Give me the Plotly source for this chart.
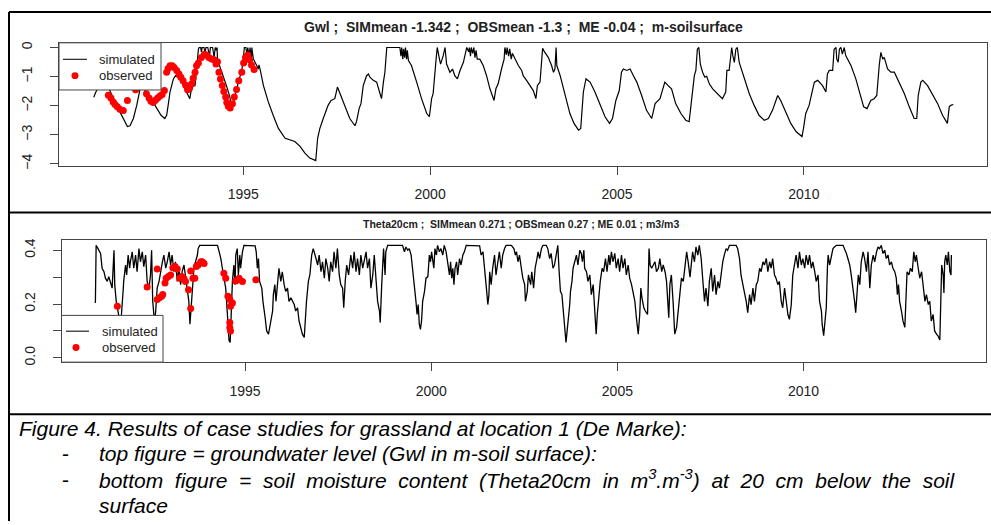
import plotly.graph_objects as go

# ---------------- data ----------------
gwl_sim_year = [
 1991.00,1991.05,1991.15,1991.25,1991.35,1991.43,1991.61,1991.74,1991.90,1991.97,1992.06,1992.15,1992.21,1992.25,1992.30,1992.36,
 1992.46,1992.64,1992.80,1992.90,1992.95,1992.99,1993.04,1993.13,1993.19,1993.31,1993.44,1993.53,1993.57,1993.60,1993.66,1993.71,
 1993.75,1993.80,1993.82,1993.86,1993.88,1993.90,1993.95,1993.98,1994.00,1994.05,1994.10,1994.12,1994.18,1994.22,1994.25,1994.28,
 1994.30,1994.31,1994.38,1994.46,1994.55,1994.64,1994.69,1994.73,1994.78,1994.87,1994.96,1995.00,1995.03,1995.07,1995.10,1995.12,
 1995.16,1995.18,1995.22,1995.23,1995.27,1995.36,1995.40,1995.42,1995.45,1995.54,1995.67,1995.80,1995.94,1996.12,1996.25,1996.38,
 1996.52,1996.65,1996.78,1996.90,1996.94,1996.99,1997.05,1997.14,1997.23,1997.27,1997.35,1997.45,1997.52,1997.59,1997.72,1997.85,
 1997.99,1998.03,1998.10,1998.15,1998.21,1998.30,1998.35,1998.39,1998.48,1998.57,1998.66,1998.70,1998.75,1998.79,1998.84,1999.19,
 1999.22,1999.24,1999.27,1999.29,1999.32,1999.34,1999.37,1999.39,1999.42,1999.50,1999.64,1999.77,1999.91,1999.98,2000.04,2000.08,
 2000.16,2000.19,2000.25,2000.28,2000.35,2000.40,2000.44,2000.53,2000.60,2000.66,2000.73,2000.80,2000.89,2000.96,2000.98,2001.03,
 2001.05,2001.08,2001.10,2001.14,2001.17,2001.20,2001.23,2001.26,2001.33,2001.42,2001.51,2001.60,2001.71,2001.76,2001.82,2001.91,
 2001.98,2002.00,2002.04,2002.06,2002.10,2002.13,2002.17,2002.20,2002.27,2002.36,2002.45,2002.49,2002.58,2002.67,2002.76,2002.83,
 2002.87,2002.94,2002.98,2003.01,2003.07,2003.16,2003.25,2003.30,2003.34,2003.37,2003.39,2003.48,2003.57,2003.65,2003.74,2003.85,
 2003.97,2004.03,2004.10,2004.17,2004.28,2004.41,2004.55,2004.68,2004.80,2004.88,2004.97,2005.06,2005.12,2005.17,2005.26,2005.35,
 2005.44,2005.53,2005.66,2005.79,2005.93,2006.02,2006.15,2006.22,2006.28,2006.37,2006.46,2006.57,2006.71,2006.84,2006.93,2006.99,
 2007.07,2007.11,2007.15,2007.19,2007.23,2007.29,2007.35,2007.40,2007.47,2007.56,2007.69,2007.82,2007.91,2007.94,2008.00,2008.05,
 2008.07,2008.10,2008.14,2008.18,2008.22,2008.27,2008.36,2008.45,2008.54,2008.67,2008.80,2008.94,2009.05,2009.16,2009.30,2009.38,
 2009.52,2009.65,2009.79,2009.95,2009.99,2010.05,2010.14,2010.21,2010.28,2010.37,2010.50,2010.59,2010.63,2010.68,2010.77,2010.81,
 2010.86,2010.88,2010.92,2010.95,2010.99,2011.03,2011.08,2011.12,2011.26,2011.39,2011.48,2011.60,2011.69,2011.79,2011.88,2011.95,
 2012.02,2012.06,2012.11,2012.15,2012.24,2012.33,2012.42,2012.55,2012.69,2012.82,2012.95,2013.02,2013.06,2013.13,2013.18,2013.31,
 2013.44,2013.58,2013.71,2013.84,2013.89,2013.93,2014.00]
gwl_sim_value = [
 -1.71,-1.55,-1.30,-1.20,-1.30,-1.48,-1.99,-2.33,-2.72,-2.69,-2.44,-1.99,-1.53,-1.35,-1.30,-1.45,
 -1.70,-1.99,-2.33,-2.44,-2.33,-1.99,-1.53,-1.08,-0.97,-1.08,-1.42,-1.70,-1.76,-1.53,-1.31,-1.31,
 -0.62,-0.06,0.00,0.00,-0.15,0.00,0.00,-0.20,0.00,0.00,-0.30,0.00,0.00,-0.35,0.00,-0.10,
 0.00,-0.40,-0.68,-0.96,-1.31,-1.70,-2.04,-1.99,-1.65,-1.19,-0.79,-0.40,0.00,0.00,-0.25,0.00,
 -0.30,0.00,-0.35,0.00,-0.40,-0.62,-0.74,-0.60,-0.74,-1.31,-1.87,-2.33,-2.78,-3.12,-3.18,-3.23,
 -3.40,-3.63,-3.80,-3.89,-3.89,-3.12,-2.78,-2.44,-2.10,-1.99,-1.82,-1.76,-1.36,-1.59,-1.99,-2.44,
 -2.69,-2.55,-2.10,-1.93,-1.31,-0.97,-0.91,-1.02,-1.13,-1.19,-1.59,-1.76,-1.19,-0.85,0.00,0.00,
 -0.30,0.00,-0.40,-0.05,-0.35,0.00,-0.40,-0.10,-0.45,-0.62,-1.19,-1.76,-2.27,-2.38,-1.76,-1.59,
 -0.40,0.00,-0.40,-0.57,-0.28,0.00,-0.57,-0.85,-0.74,-0.97,-1.08,-0.79,-0.51,-0.11,0.00,-0.15,
 0.00,-0.30,0.00,-0.20,0.00,-0.35,-0.10,-0.40,-0.40,-0.62,-0.97,-1.42,-1.82,-1.42,-1.25,-0.74,
 -0.40,0.00,-0.25,0.00,-0.30,-0.05,-0.40,-0.20,-0.40,-0.62,-0.79,-0.97,-1.13,-1.31,-1.48,-1.76,
 -1.31,-1.19,-0.57,-0.03,-0.17,-0.34,-0.62,-0.85,-0.74,0.00,-0.62,-0.97,-1.42,-1.87,-2.27,-2.61,
 -2.84,-2.78,-1.53,-1.08,-1.19,-1.53,-1.99,-2.38,-2.61,-2.44,-1.82,-1.48,-0.85,-0.74,-0.79,-0.74,
 -0.97,-1.19,-1.65,-2.16,-2.44,-1.93,-1.76,-1.42,-1.19,-1.31,-1.42,-1.93,-2.27,-2.50,-2.55,-1.87,
 -0.97,-0.79,-0.06,0.00,-0.57,-0.85,-1.02,-0.99,-1.25,-1.42,-1.59,-1.76,-1.53,-0.79,-0.79,-0.06,
 0.00,-0.28,-0.51,-0.06,0.00,-0.51,-0.85,-1.19,-1.59,-1.99,-2.33,-2.50,-2.44,-2.16,-1.65,-1.82,
 -2.21,-2.61,-2.89,-3.06,-2.78,-2.27,-1.99,-1.53,-1.19,-1.13,-1.31,-1.53,-0.91,-0.79,-0.79,-0.06,
 0.00,-0.40,-0.51,-0.06,0.00,-0.23,0.00,-0.28,-0.62,-1.08,-1.53,-2.04,-2.10,-1.82,-1.76,-1.65,
 -0.57,-0.17,-0.40,-0.34,-0.74,-0.85,-0.85,-1.19,-1.59,-2.04,-2.44,-2.44,-1.65,-1.19,-1.13,-1.31,
 -1.59,-1.93,-2.33,-2.61,-2.04,-1.99,-1.96]

gwl_obs_year = [
 1991.39,1991.46,1991.52,1991.57,1991.63,1991.70,1991.79,1991.90,1992.12,
 1992.41,1992.48,1992.53,1992.59,1992.65,1992.71,1992.77,1992.83,1992.89,
 1992.95,1992.99,1993.04,1993.10,1993.15,1993.22,1993.28,1993.33,1993.39,1993.46,1993.51,1993.56,1993.62,1993.66,1993.71,1993.75,1993.80,
 1993.88,1993.96,1994.02,1994.08,1994.15,1994.22,1994.27,1994.31,1994.35,1994.39,1994.44,1994.48,1994.53,1994.56,1994.60,1994.65,
 1994.71,1994.76,1994.82,1994.88,1994.96,1995.01,1995.06,1995.12,1995.17,1995.22,1995.29]
gwl_obs_value = [
 -1.64,-1.74,-1.87,-1.96,-2.04,-2.12,-2.17,-1.82,-1.45,
 -1.59,-1.74,-1.85,-1.89,-1.81,-1.74,-1.67,-1.62,-1.48,
 -0.85,-0.72,-0.63,-0.63,-0.69,-0.79,-0.91,-1.02,-1.14,-1.30,-1.45,-1.40,-1.25,-1.06,-0.85,-0.63,-0.53,
 -0.34,-0.23,-0.26,-0.34,-0.40,-0.42,-0.57,-0.49,-0.85,-1.08,-1.31,-1.51,-1.70,-1.89,-2.02,-2.08,
 -1.93,-1.70,-1.44,-1.14,-0.85,-0.53,-0.34,-0.26,-0.42,-0.60,-0.76]

theta_sim_year = [
 1990.98,1991.00,1991.05,1991.12,1991.16,1991.21,1991.25,1991.30,1991.34,1991.39,1991.43,1991.48,1991.50,1991.54,1991.59,1991.63,
 1991.67,1991.68,1991.73,1991.74,1991.79,1991.82,1991.86,1991.90,1991.92,1991.97,1992.01,1992.06,1992.10,1992.15,1992.19,1992.24,
 1992.28,1992.33,1992.37,1992.42,1992.46,1992.49,1992.52,1992.55,1992.57,1992.60,1992.64,1992.69,1992.73,1992.78,1992.82,1992.87,
 1992.91,1992.96,1993.00,1993.04,1993.09,1993.13,1993.18,1993.22,1993.27,1993.31,1993.36,1993.40,1993.45,1993.49,1993.52,1993.57,
 1993.60,1993.63,1993.67,1993.72,1993.74,1993.78,1994.26,1994.30,1994.35,1994.39,1994.43,1994.48,1994.52,1994.57,1994.60,1994.61,
 1994.64,1994.66,1994.70,1994.73,1994.75,1994.79,1994.82,1994.86,1994.88,1994.93,1994.97,1995.27,1995.30,1995.33,1995.36,1995.39,
 1995.45,1995.48,1995.54,1995.58,1995.63,1995.69,1995.74,1995.76,1995.80,1995.83,1995.87,1995.91,1995.96,1996.00,1996.05,1996.09,
 1996.14,1996.18,1996.23,1996.27,1996.32,1996.36,1996.41,1996.45,1996.50,1996.54,1996.59,1996.61,1996.65,1996.70,1996.74,1996.79,
 1996.83,1996.88,1996.95,1996.99,1997.04,1997.08,1997.13,1997.17,1997.22,1997.26,1997.30,1997.35,1997.39,1997.44,1997.48,1997.53,
 1997.57,1997.62,1997.65,1997.69,1997.73,1997.78,1997.84,1997.89,1997.93,1997.98,1998.02,1998.07,1998.11,1998.16,1998.20,1998.25,
 1998.29,1998.34,1998.38,1998.43,1998.47,1998.52,1998.56,1998.61,1998.63,1998.67,1998.70,1998.72,1998.76,1998.78,1998.83,1999.23,
 1999.28,1999.32,1999.37,1999.41,1999.46,1999.50,1999.55,1999.59,1999.62,1999.65,1999.68,1999.71,1999.74,1999.77,1999.82,1999.86,
 1999.91,1999.95,1999.98,2000.01,2000.07,2000.10,2000.14,2000.17,2000.22,2000.26,2000.31,2000.35,2000.40,2000.44,2000.49,2000.52,
 2000.55,2000.58,2000.61,2000.64,2000.68,2000.71,2000.76,2000.80,2000.85,2000.89,2000.94,2001.30,2001.34,2001.39,2001.43,2001.46,
 2001.49,2001.52,2001.55,2001.57,2001.61,2001.65,2001.70,2001.74,2001.79,2001.83,2001.88,2001.92,2001.97,2002.01,2002.15,2002.22,
 2002.26,2002.29,2002.33,2002.37,2002.42,2002.46,2002.51,2002.53,2002.58,2002.61,2002.67,2002.70,2002.75,2002.79,2002.84,2002.87,
 2002.91,2002.96,2003.00,2003.09,2003.13,2003.18,2003.22,2003.27,2003.31,2003.36,2003.40,2003.43,2003.47,2003.51,2003.54,2003.58,
 2003.62,2003.65,2003.69,2003.72,2003.74,2003.78,2003.81,2003.85,2003.90,2003.94,2003.99,2004.03,2004.06,2004.10,2004.12,2004.17,
 2004.21,2004.26,2004.30,2004.35,2004.39,2004.43,2004.46,2004.50,2004.54,2004.59,2004.63,2004.68,2004.72,2004.77,2004.80,2004.84,
 2004.88,2004.93,2004.97,2005.02,2005.06,2005.11,2005.15,2005.20,2005.24,2005.29,2005.33,2005.38,2005.42,2005.47,2005.51,2005.56,
 2005.60,2005.63,2005.66,2005.71,2005.75,2005.81,2005.85,2005.88,2005.92,2005.96,2006.01,2006.05,2006.10,2006.14,2006.19,2006.23,
 2006.28,2006.32,2006.35,2006.38,2006.41,2006.45,2006.50,2006.54,2006.59,2006.63,2006.68,2006.72,2006.77,2006.81,2006.86,2006.90,
 2006.95,2007.02,2007.07,2007.11,2007.16,2007.20,2007.25,2007.29,2007.34,2007.38,2007.43,2007.47,2007.52,2007.56,2007.61,2007.65,
 2007.70,2007.74,2007.78,2007.83,2007.87,2007.92,2007.96,2008.01,2008.19,2008.23,2008.28,2008.32,2008.37,2008.41,2008.46,2008.50,
 2008.55,2008.59,2008.64,2008.68,2008.73,2008.77,2008.82,2008.86,2008.91,2008.95,2009.00,2009.04,2009.09,2009.13,2009.17,2009.22,
 2009.26,2009.31,2009.35,2009.40,2009.44,2009.49,2009.53,2009.58,2009.62,2009.67,2009.71,2009.76,2009.80,2009.85,2009.89,2009.94,
 2009.98,2010.03,2010.07,2010.12,2010.16,2010.21,2010.25,2010.30,2010.34,2010.39,2010.43,2010.48,2010.50,2010.54,2010.57,2010.61,
 2010.64,2010.66,2010.70,2010.74,2010.79,2010.83,2010.88,2011.06,2011.10,2011.15,2011.19,2011.24,2011.28,2011.33,2011.37,2011.40,
 2011.43,2011.47,2011.51,2011.55,2011.60,2011.64,2011.69,2011.73,2011.78,2011.82,2011.87,2011.91,2011.96,2012.00,2012.04,2012.09,
 2012.13,2012.18,2012.22,2012.27,2012.31,2012.36,2012.40,2012.45,2012.49,2012.52,2012.55,2012.58,2012.63,2012.67,2012.72,2012.76,
 2012.78,2012.83,2012.87,2012.92,2012.96,2013.00,2013.03,2013.08,2013.12,2013.17,2013.21,2013.26,2013.30,2013.35,2013.39,2013.43,
 2013.48,2013.52,2013.57,2013.61,2013.66,2013.69,2013.71,2013.75,2013.77,2013.79,2013.82,2013.86,2013.89,2013.93,2013.96,2013.97]
theta_sim_value = [
 0.204,0.418,0.406,0.388,0.333,0.320,0.296,0.284,0.302,0.272,0.259,0.400,0.272,0.210,0.161,0.140,
 0.150,0.161,0.259,0.284,0.345,0.308,0.382,0.333,0.357,0.394,0.333,0.382,0.320,0.406,0.357,0.394,
 0.339,0.382,0.284,0.259,0.308,0.400,0.210,0.149,0.130,0.174,0.259,0.284,0.320,0.357,0.382,0.333,
 0.357,0.394,0.345,0.382,0.320,0.357,0.284,0.333,0.272,0.320,0.345,0.296,0.259,0.210,0.125,0.210,
 0.284,0.339,0.357,0.382,0.406,0.418,0.418,0.400,0.369,0.333,0.296,0.259,0.174,0.064,0.057,0.100,
 0.210,0.284,0.345,0.272,0.382,0.406,0.308,0.382,0.333,0.394,0.418,0.416,0.394,0.333,0.369,0.284,
 0.259,0.210,0.149,0.100,0.088,0.137,0.174,0.235,0.272,0.210,0.272,0.333,0.284,0.320,0.272,0.247,
 0.259,0.210,0.223,0.210,0.198,0.174,0.186,0.137,0.113,0.088,0.076,0.125,0.210,0.284,0.308,0.382,
 0.406,0.382,0.345,0.382,0.320,0.357,0.296,0.369,0.333,0.284,0.357,0.320,0.394,0.333,0.406,0.308,
 0.272,0.259,0.186,0.284,0.345,0.308,0.382,0.333,0.394,0.320,0.369,0.308,0.382,0.333,0.357,0.394,
 0.333,0.369,0.259,0.308,0.382,0.272,0.210,0.174,0.131,0.272,0.382,0.406,0.308,0.394,0.418,0.418,
 0.394,0.412,0.400,0.406,0.382,0.333,0.272,0.210,0.161,0.198,0.125,0.106,0.137,0.210,0.247,0.296,
 0.302,0.382,0.357,0.394,0.333,0.406,0.382,0.418,0.394,0.406,0.382,0.418,0.394,0.357,0.308,0.357,
 0.296,0.333,0.272,0.333,0.357,0.308,0.369,0.345,0.382,0.394,0.418,0.416,0.382,0.394,0.345,0.296,
 0.247,0.198,0.235,0.320,0.272,0.333,0.382,0.308,0.357,0.394,0.333,0.382,0.406,0.418,0.418,0.406,
 0.382,0.394,0.357,0.382,0.333,0.296,0.272,0.210,0.247,0.308,0.272,0.320,0.259,0.333,0.369,0.394,
 0.369,0.406,0.418,0.418,0.406,0.369,0.388,0.333,0.345,0.382,0.418,0.333,0.247,0.235,0.186,0.149,
 0.057,0.100,0.149,0.198,0.247,0.284,0.333,0.357,0.382,0.345,0.400,0.388,0.357,0.400,0.333,0.320,
 0.284,0.308,0.235,0.272,0.174,0.088,0.161,0.235,0.284,0.333,0.320,0.369,0.320,0.382,0.345,0.394,
 0.357,0.388,0.333,0.369,0.320,0.382,0.333,0.369,0.308,0.345,0.296,0.272,0.247,0.210,0.149,0.088,
 0.161,0.259,0.223,0.186,0.174,0.161,0.406,0.345,0.333,0.345,0.357,0.320,0.333,0.369,0.320,0.345,
 0.320,0.284,0.198,0.149,0.272,0.308,0.198,0.088,0.113,0.174,0.259,0.296,0.284,0.333,0.394,0.357,
 0.300,0.394,0.357,0.412,0.382,0.418,0.369,0.296,0.210,0.259,0.192,0.284,0.333,0.247,0.308,0.235,
 0.284,0.259,0.308,0.357,0.382,0.406,0.400,0.418,0.418,0.406,0.369,0.308,0.272,0.247,0.210,0.168,
 0.235,0.198,0.259,0.210,0.272,0.284,0.333,0.320,0.357,0.345,0.369,0.320,0.357,0.333,0.369,0.308,
 0.296,0.272,0.284,0.210,0.186,0.259,0.210,0.161,0.143,0.198,0.308,0.345,0.382,0.333,0.394,0.345,
 0.369,0.333,0.382,0.345,0.382,0.333,0.357,0.320,0.284,0.308,0.210,0.174,0.125,0.082,0.137,0.186,
 0.333,0.382,0.345,0.369,0.406,0.412,0.418,0.418,0.406,0.388,0.369,0.345,0.308,0.259,0.210,0.168,
 0.235,0.308,0.272,0.357,0.394,0.369,0.320,0.394,0.259,0.345,0.382,0.357,0.394,0.412,0.406,0.418,
 0.388,0.400,0.369,0.382,0.345,0.357,0.333,0.320,0.296,0.235,0.272,0.210,0.174,0.137,0.113,0.259,
 0.320,0.308,0.333,0.320,0.394,0.357,0.382,0.333,0.296,0.320,0.272,0.210,0.235,0.198,0.210,0.137,
 0.161,0.100,0.088,0.082,0.066,0.210,0.345,0.308,0.241,0.357,0.382,0.345,0.394,0.320,0.308,0.382]

theta_obs_year = [
 1991.57,1992.37,1992.64,1992.64,1992.70,1992.76,1992.79,1992.85,1992.88,1992.94,1993.00,1993.06,1993.12,1993.18,
 1993.24,1993.30,1993.36,1993.40,1993.48,1993.54,1993.54,1993.60,1993.65,1993.69,1993.74,1993.81,1993.85,1993.90,
 1994.43,1994.48,1994.54,1994.59,1994.61,1994.66,1994.59,1994.59,1994.61,1994.75,1994.84,1994.93,1995.29]
theta_obs_value = [
 0.192,0.263,0.330,0.217,0.223,0.229,0.235,0.278,0.296,0.302,0.308,0.335,0.339,0.330,
 0.296,0.302,0.294,0.284,0.253,0.183,0.323,0.296,0.296,0.339,0.345,0.357,0.357,0.351,
 0.314,0.296,0.229,0.217,0.192,0.204,0.131,0.113,0.100,0.286,0.296,0.284,0.290]

x_ticks = [1995, 2000, 2005, 2010]
gwl_ticks = [0, -1, -2, -3, -4]
theta_ticks = [0.0, 0.2, 0.4]
theta_ticktext = ["0.0", "0.2", "0.4"]

title_top = "Gwl ;\u00a0 SIMmean -1.342 ;\u00a0 OBSmean -1.3 ;\u00a0 ME -0.04 ;\u00a0 m-soilsurface"
title_bot = "Theta20cm ;\u00a0 SIMmean 0.271 ; OBSmean 0.27 ; ME 0.01 ; m3/m3"
caption = [
    "Figure 4. Results of case studies for grassland at location 1 (De Marke):",
    "top figure = groundwater level (Gwl in m-soil surface):",
    "bottom figure = soil moisture content (Theta20cm in m<sup>3</sup>.m<sup>-3</sup>) at 20 cm below the soil",
    "surface",
]

# ---------------- layout helpers ----------------
W, H = 991, 525
def px(x):
    return x / W
def py(y):
    return 1 - y / H

FONT = "Liberation Sans, Arial, sans-serif"
AX = "#444444"
TXT = "#222222"

fig = go.Figure()
fig.add_trace(go.Scatter(x=gwl_sim_year, y=gwl_sim_value, mode="lines",
                         line=dict(color="black", width=1.2), xaxis="x", yaxis="y"))
fig.add_trace(go.Scatter(x=gwl_obs_year, y=gwl_obs_value, mode="markers",
                         marker=dict(color="#ff0000", size=7), xaxis="x", yaxis="y"))
fig.add_trace(go.Scatter(x=theta_sim_year, y=theta_sim_value, mode="lines",
                         line=dict(color="black", width=1.3), xaxis="x2", yaxis="y2"))
fig.add_trace(go.Scatter(x=theta_obs_year, y=theta_obs_value, mode="markers",
                         marker=dict(color="#ff0000", size=7), xaxis="x2", yaxis="y2"))

common_x = dict(tickvals=x_ticks, ticks="outside", ticklen=8, tickcolor=AX,
                showline=True, mirror=True, linecolor=AX, linewidth=1,
                showgrid=False, zeroline=False, ticklabelstandoff=8,
                tickfont=dict(family=FONT, size=14, color=TXT))
common_y = dict(ticks="outside", ticklen=8, tickcolor=AX, tickangle=-90,
                showline=True, mirror=True, linecolor=AX, linewidth=1,
                showgrid=False, zeroline=False, ticklabelstandoff=12,
                tickfont=dict(family=FONT, size=14, color=TXT))

fig.update_layout(
    width=W, height=H, margin=dict(l=0, r=0, t=0, b=0),
    paper_bgcolor="white", plot_bgcolor="white", showlegend=False,
    xaxis=dict(domain=[px(59), px(987)], range=[1990.07, 2014.90], anchor="y", **common_x),
    yaxis=dict(domain=[py(165.5), py(41.3)], range=[-4.06, 0.16], tickvals=gwl_ticks,
               anchor="x", **common_y),
    xaxis2=dict(domain=[px(61.5), px(986)], range=[1990.07, 2014.90], anchor="y2", **common_x),
    yaxis2=dict(domain=[py(364.3), py(241)], range=[-0.016, 0.437], tickvals=theta_ticks,
                ticktext=theta_ticktext, anchor="x2",
                minor=dict(dtick=0.1, tick0=0, ticks="outside", ticklen=8, tickcolor=AX),
                **common_y),
)

shapes = []
annotations = []

# frame lines of the surrounding table
for (x0, y0, x1, y1) in [(9, 10, 9, 525), (9, 10, 991, 10), (9, 213, 991, 213), (9, 417, 991, 417)]:
    shapes.append(dict(type="line", xref="paper", yref="paper", x0=px(x0), y0=py(y0), x1=px(x1), y1=py(y1),
                       line=dict(color="black", width=2), layer="above"))

# legends (white boxes covering the data, like R)
def legend(x0, y0, x1, y1, ly, oy, lx0, lx1, dotx, tx):
    shapes.append(dict(type="rect", xref="paper", yref="paper", x0=px(x0), y0=py(y1), x1=px(x1), y1=py(y0),
                       fillcolor="white", line=dict(color=AX, width=1), layer="above"))
    shapes.append(dict(type="line", xref="paper", yref="paper", x0=px(lx0), y0=py(ly), x1=px(lx1), y1=py(ly),
                       line=dict(color="#222", width=1.2), layer="above"))
    r = 3.5
    shapes.append(dict(type="circle", xref="paper", yref="paper", x0=px(dotx - r), y0=py(oy + r),
                       x1=px(dotx + r), y1=py(oy - r), fillcolor="#ff0000", line=dict(width=0), layer="above"))
    for t, yy in (("simulated", ly), ("observed", oy)):
        annotations.append(dict(xref="paper", yref="paper", x=px(tx), y=py(yy), text=t, showarrow=False,
                                xanchor="left", yanchor="middle", font=dict(family=FONT, size=13, color=TXT)))

legend(59, 41.3, 161, 89, 58, 74.5, 63, 87, 75, 97)
legend(61.5, 317, 163, 364.3, 333, 349.5, 66, 89, 76, 100)

annotations.append(dict(xref="paper", yref="paper", x=px(523), y=py(25), text="<b>" + title_top + "</b>",
                        showarrow=False, xanchor="center", yanchor="middle",
                        font=dict(family=FONT, size=14, color=TXT)))
annotations.append(dict(xref="paper", yref="paper", x=px(521), y=py(225), text="<b>" + title_bot + "</b>",
                        showarrow=False, xanchor="center", yanchor="middle",
                        font=dict(family=FONT, size=10.5, color=TXT)))

# caption (third line is justified in the original, hence the wider word spacing)
cap_font = dict(family=FONT, size=21, color="black")
justified = caption[2].replace(" ", " \u00a0")
annotations.append(dict(xref="paper", yref="paper", x=px(17), y=py(431), text="<i>" + caption[0] + "</i>",
                        showarrow=False, xanchor="left", yanchor="middle", font=cap_font))
for yy, t, dash in ((457, caption[1], True), (483, justified, True), (509, caption[3], False)):
    if dash:
        annotations.append(dict(xref="paper", yref="paper", x=px(60), y=py(yy), text="-",
                                showarrow=False, xanchor="left", yanchor="middle", font=cap_font))
    annotations.append(dict(xref="paper", yref="paper", x=px(97), y=py(yy), text="<i>" + t + "</i>",
                            showarrow=False, xanchor="left", yanchor="middle", font=cap_font))

fig.update_layout(shapes=shapes, annotations=annotations)
fig.write_html("out.html", config={"displayModeBar": False},
               post_script="document.body.style.margin='0';")
